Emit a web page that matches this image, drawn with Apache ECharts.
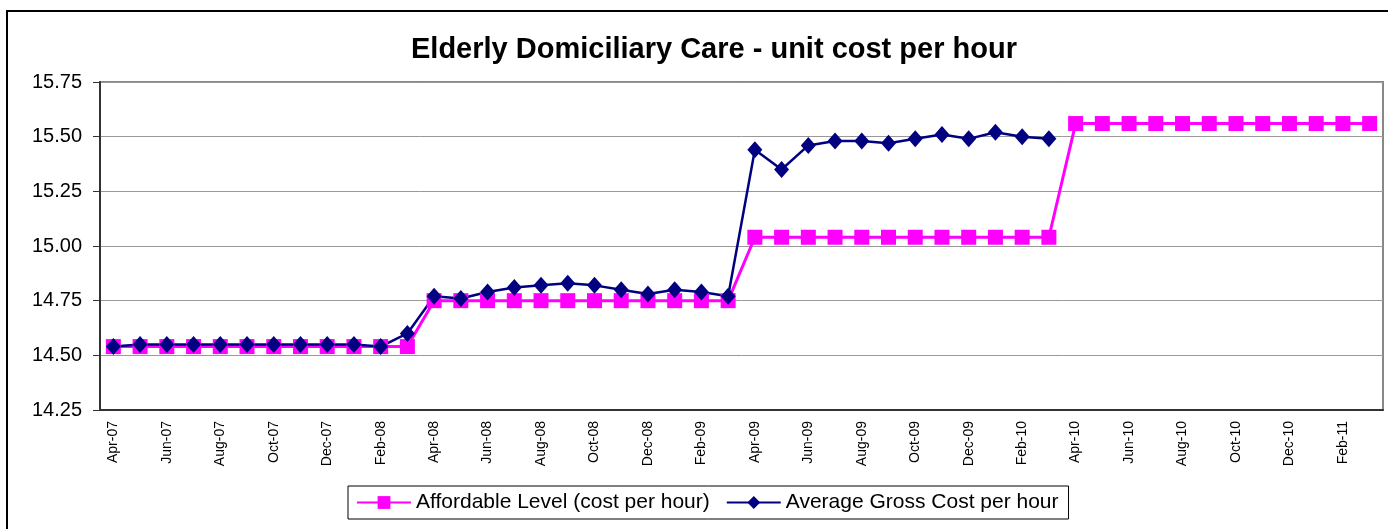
<!DOCTYPE html>
<html>
<head>
<meta charset="utf-8">
<script src="https://cdn.jsdelivr.net/npm/echarts@6/dist/echarts.min.js"></script>
<style>
  html, body { margin: 0; padding: 0; background: #fff; }
  #chart { width: 1388px; height: 529px; }
</style>
</head>
<body>
<div id="chart"></div>
<script>
// months, Apr-07 .. Mar-11
var months = [
  'Apr-07','May-07','Jun-07','Jul-07','Aug-07','Sep-07','Oct-07','Nov-07','Dec-07','Jan-08','Feb-08','Mar-08',
  'Apr-08','May-08','Jun-08','Jul-08','Aug-08','Sep-08','Oct-08','Nov-08','Dec-08','Jan-09','Feb-09','Mar-09',
  'Apr-09','May-09','Jun-09','Jul-09','Aug-09','Sep-09','Oct-09','Nov-09','Dec-09','Jan-10','Feb-10','Mar-10',
  'Apr-10','May-10','Jun-10','Jul-10','Aug-10','Sep-10','Oct-10','Nov-10','Dec-10','Jan-11','Feb-11','Mar-11'
];

var affordable = [
  14.54, 14.54, 14.54, 14.54, 14.54, 14.54, 14.54, 14.54, 14.54, 14.54, 14.54, 14.54,
  14.75, 14.75, 14.75, 14.75, 14.75, 14.75, 14.75, 14.75, 14.75, 14.75, 14.75, 14.75,
  15.04, 15.04, 15.04, 15.04, 15.04, 15.04, 15.04, 15.04, 15.04, 15.04, 15.04, 15.04,
  15.56, 15.56, 15.56, 15.56, 15.56, 15.56, 15.56, 15.56, 15.56, 15.56, 15.56, 15.56
];

var grossCost = [
  14.54, 14.55, 14.55, 14.55, 14.55, 14.55, 14.55, 14.55, 14.55, 14.55, 14.54, 14.60,
  14.77, 14.76, 14.79, 14.81, 14.82, 14.83, 14.82, 14.80, 14.78, 14.80, 14.79, 14.77,
  15.44, 15.35, 15.46, 15.48, 15.48, 15.47, 15.49, 15.51, 15.49, 15.52, 15.50, 15.49,
  null, null, null, null, null, null, null, null, null, null, null, null
];

var seriesNames = ['Affordable Level (cost per hour)', 'Average Gross Cost per hour'];

var font = "'Liberation Sans', Arial, sans-serif";

var option = {
  animation: false,
  textStyle: { fontFamily: font },
  title: {
    text: 'Elderly Domiciliary Care - unit cost per hour',
    left: 406,
    top: 30,
    textStyle: { fontSize: 29, fontWeight: 'bold', color: '#000', fontFamily: font }
  },
  legend: {
    data: seriesNames,
    left: 348,
    top: 486,
    padding: [6, 10, 6, 8],
    borderColor: '#000',
    borderWidth: 1,
    itemWidth: 54,
    itemHeight: 16,
    itemGap: 16,
    textStyle: { fontSize: 21, color: '#000', fontFamily: font }
  },
  grid: {
    left: 100,
    right: 5,
    top: 82,
    bottom: 119,
    show: true,
    borderColor: '#888',
    borderWidth: 2
  },
  xAxis: {
    type: 'category',
    data: months,
    boundaryGap: true,
    axisLine: { lineStyle: { color: '#333', width: 2 } },
    axisTick: { interval: 0, length: 6, lineStyle: { color: '#333' } },
    axisLabel: {
      interval: 1,
      rotate: 90,
      fontSize: 14,
      color: '#000',
      margin: 11,
      fontFamily: font
    },
    splitLine: { show: false }
  },
  yAxis: {
    type: 'value',
    min: 14.25,
    max: 15.75,
    interval: 0.25,
    axisLine: { show: true, lineStyle: { color: '#333', width: 2 } },
    axisTick: { show: true, length: 7, lineStyle: { color: '#333' } },
    axisLabel: {
      fontSize: 20,
      color: '#000',
      margin: 18,
      fontFamily: font,
      formatter: function (v) { return v.toFixed(2); }
    },
    splitLine: { lineStyle: { color: '#999', width: 1 } }
  },
  series: [
    {
      name: seriesNames[0],
      type: 'line',
      data: affordable,
      symbol: 'rect',
      symbolSize: 15,
      itemStyle: { color: '#FF00FF' },
      lineStyle: { color: '#FF00FF', width: 3 }
    },
    {
      name: seriesNames[1],
      type: 'line',
      data: grossCost,
      symbol: 'diamond',
      symbolSize: [15, 17],
      itemStyle: { color: '#000080' },
      lineStyle: { color: '#000080', width: 2.5 }
    }
  ],
  graphic: [
    {
      type: 'rect',
      shape: { x: 7, y: 11, width: 1500, height: 700 },
      style: { fill: 'none', stroke: '#000', lineWidth: 2 },
      silent: true
    }
  ]
};

echarts.init(document.getElementById('chart')).setOption(option);
</script>
</body>
</html>
